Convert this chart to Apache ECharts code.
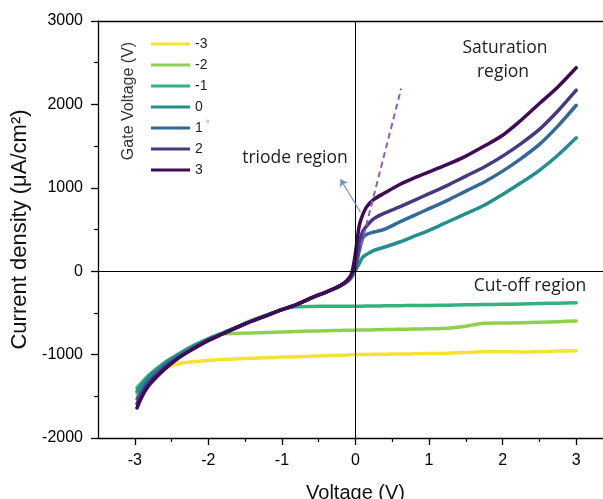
<!DOCTYPE html>
<html><head><meta charset="utf-8">
<script src="https://cdn.jsdelivr.net/npm/echarts@6/dist/echarts.min.js"></script>
<style>html,body{margin:0;padding:0;background:#fff}#c{width:603px;height:499px}</style>
</head><body><div id="c"></div>
<script>
// Shared voltage sweep (V)
const voltage = [-2.97,-2.9,-2.8,-2.6,-2.4,-2.2,-2.0,-1.8,-1.6,-1.4,-1.2,-1.0,-0.8,-0.6,-0.4,-0.2,-0.1,-0.05,0,0.05,0.1,0.15,0.25,0.4,0.6,0.8,1.0,1.25,1.5,1.75,2.0,2.25,2.5,2.75,3.0];
// Current density (uA/cm2) for each gate voltage
const jGateM3 = [-1450,-1360,-1260,-1165,-1110,-1085,-1070,-1060,-1050,-1043,-1037,-1030,-1025,-1020,-1015,-1008,-1005,-1003,-1000,-1000,-999,-998,-997,-995,-993,-990,-988,-983,-975,-965,-965,-968,-965,-958,-955];
const jGateM2 = [-1470,-1380,-1280,-1120,-1000,-895,-815,-750,-745,-740,-735,-728,-722,-718,-714,-710,-709,-708,-707,-706,-705,-705,-703,-700,-697,-694,-690,-685,-660,-625,-622,-618,-612,-605,-597];
const jGateM1 = [-1400,-1330,-1240,-1100,-990,-890,-810,-740,-665,-590,-525,-460,-425,-422,-421,-420,-420,-420,-420,-419,-419,-418,-417,-415,-413,-411,-410,-407,-403,-400,-397,-393,-388,-383,-378];
const jGate0 = [-1440,-1360,-1260,-1110,-1000,-900,-810,-740,-665,-590,-525,-460,-400,-320,-250,-175,-120,-70,10,90,170,200,250,290,350,420,490,590,690,790,920,1060,1210,1390,1600];
const jGate1 = [-1530,-1420,-1300,-1140,-1020,-915,-825,-745,-668,-592,-527,-460,-400,-320,-250,-172,-110,-50,40,240,400,440,470,505,590,670,750,850,960,1070,1200,1350,1520,1740,1990];
const jGate2 = [-1590,-1460,-1330,-1160,-1030,-925,-830,-750,-670,-595,-530,-462,-400,-320,-250,-170,-105,-40,80,350,480,540,630,700,770,850,930,1030,1140,1250,1380,1530,1700,1920,2170];
const jGate3 = [-1640,-1500,-1360,-1180,-1040,-930,-830,-750,-670,-595,-530,-462,-400,-320,-250,-170,-95,-20,220,540,680,770,860,940,1040,1120,1190,1280,1380,1500,1630,1810,2010,2210,2440];

const gateLabels = ['-3','-2','-1','0','1','2','3'];
const gateSeries = [jGateM3,jGateM2,jGateM1,jGate0,jGate1,jGate2,jGate3];
const gateColors = ['#f5e232','#8fd14f','#35b27c','#22908c','#33699a','#46397f','#3f0a58'];

const xMajorTicks = [-3,-2,-1,0,1,2,3];
const xMinorTicks = [-2.5,-1.5,-0.5,0.5,1.5,2.5];
const tangentLine = [[0.077,312],[0.621,2191]];
const arrowFrom = [0.068,707];
const arrowTo = [-0.204,1103];

const chart = echarts.init(document.getElementById('c'));
const FONT = 'Liberation Sans';
const ANN = 'Open Sans';

const series = gateSeries.map((vals, i) => ({
  name: gateLabels[i],
  type: 'line',
  data: voltage.map((v, k) => [v, vals[k]]),
  symbol: 'none',
  showSymbol: false,
  smooth: 0.3,
  z: 3,
  color: gateColors[i],
  lineStyle: { width: 3.5, color: gateColors[i], cap: 'round', join: 'round' }
}));

series.unshift({
  name: 'axes0',
  type: 'line',
  data: [],
  z: 1,
  markLine: {
    silent: true,
    symbol: 'none',
    label: { show: false },
    lineStyle: { color: '#000', width: 1, type: 'solid' },
    data: [{ xAxis: 0 }, { yAxis: 0 }]
  }
});

series.push({
  name: 'tangent',
  type: 'line',
  data: tangentLine,
  symbol: 'none',
  z: 4,
  lineStyle: { color: '#8a5cc4', width: 2, type: [6, 4] }
});

series.push({
  name: 'arrow',
  type: 'line',
  data: [],
  z: 4,
  markLine: {
    silent: true,
    symbol: ['none', 'arrow'],
    symbolSize: 7,
    label: { show: false },
    lineStyle: { color: '#6b95bd', width: 1.2, type: 'solid' },
    data: [[{ coord: arrowFrom }, { coord: arrowTo }]]
  }
});

chart.setOption({
  animation: false,
  backgroundColor: '#fff',
  grid: { left: 98, top: 21, width: 515, bottom: 61, containLabel: false, outerBoundsMode: 'none' },
  legend: {
    data: gateLabels,
    orient: 'vertical',
    left: 146,
    top: 32,
    itemWidth: 39,
    itemHeight: 14,
    itemGap: 7,
    icon: 'path://M0,0 H39 V3 H0 Z',
    textStyle: { fontFamily: FONT, fontSize: 14, color: '#222' },
    selectedMode: false
  },
  xAxis: [
    {
      type: 'value', min: -3.5, max: 3.5, interval: 0.5, position: 'bottom',
      name: 'Voltage (V)', nameLocation: 'middle', nameGap: 45,
      nameTextStyle: { fontFamily: FONT, fontSize: 20, color: '#111' },
      axisLine: { onZero: false, lineStyle: { color: '#000', width: 1.3 } },
      axisTick: { show: true, customValues: xMajorTicks, length: 7, inside: false, lineStyle: { color: '#000', width: 1.3 } },
      axisLabel: { customValues: xMajorTicks, margin: 15, fontFamily: FONT, fontSize: 16, color: '#000' },
      splitLine: { show: false }
    },
    {
      type: 'value', min: -3.5, max: 3.5, interval: 0.5, position: 'bottom',
      axisLine: { show: false, onZero: false },
      axisTick: { show: true, customValues: xMinorTicks, length: 4, lineStyle: { color: '#000', width: 1.2 } },
      axisLabel: { show: false },
      splitLine: { show: false }
    },
    {
      type: 'value', min: -3.5, max: 3.5, position: 'top',
      axisLine: { show: true, onZero: false, lineStyle: { color: '#000', width: 1.3 } },
      axisTick: { show: false }, axisLabel: { show: false }, splitLine: { show: false }
    }
  ],
  yAxis: {
    type: 'value', min: -2000, max: 3000, interval: 1000,
    name: 'Current density (\u03bcA/cm\u00b2)', nameLocation: 'middle', nameGap: 61,
    nameTextStyle: { fontFamily: FONT, fontSize: 22, color: '#111' },
    axisLine: { show: true, onZero: false, lineStyle: { color: '#000', width: 1.3 } },
    axisTick: { show: true, length: 7, lineStyle: { color: '#000', width: 1.3 } },
    minorTick: { show: true, splitNumber: 2, length: 4, lineStyle: { color: '#000', width: 1.2 } },
    axisLabel: { margin: 15, fontFamily: FONT, fontSize: 16, color: '#000', formatter: v => String(v) },
    splitLine: { show: false }
  },
  graphic: [
    { type: 'text', x: 128.5, y: 101, rotation: Math.PI / 2,
      style: { text: 'Gate Voltage (V)', fontFamily: FONT, fontSize: 16, fill: '#333', textAlign: 'center', textVerticalAlign: 'middle' } },
    { type: 'text', x: 208, y: 121,
      style: { text: 'tı', fontFamily: FONT, fontSize: 6, fill: '#888', textAlign: 'center', textVerticalAlign: 'middle' } },
    { type: 'text', x: 505, y: 48,
      style: { text: 'Saturation', fontFamily: ANN, fontSize: 17.5, fill: '#222', textAlign: 'center', textVerticalAlign: 'middle' } },
    { type: 'text', x: 503, y: 72,
      style: { text: 'region', fontFamily: ANN, fontSize: 17.5, fill: '#222', textAlign: 'center', textVerticalAlign: 'middle' } },
    { type: 'text', x: 295, y: 158,
      style: { text: 'triode region', fontFamily: ANN, fontSize: 17.5, fill: '#222', textAlign: 'center', textVerticalAlign: 'middle' } },
    { type: 'text', x: 530, y: 286,
      style: { text: 'Cut-off region', fontFamily: ANN, fontSize: 17.5, fill: '#222', textAlign: 'center', textVerticalAlign: 'middle' } }
  ],
  series: series
});
</script>
</body></html>
